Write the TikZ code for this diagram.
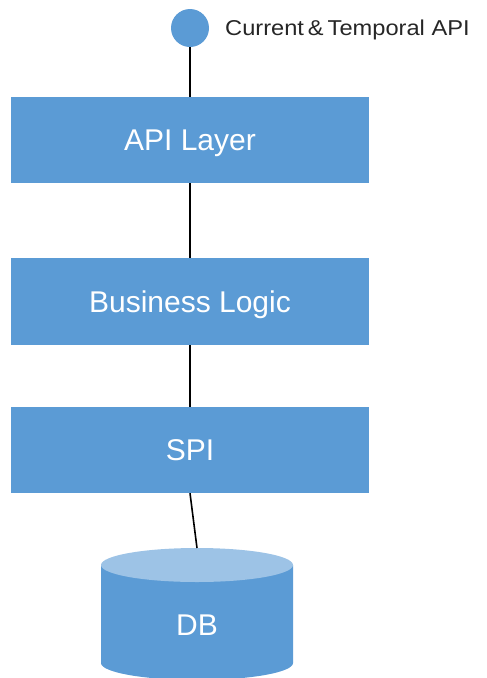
\documentclass[tikz,border=0pt]{standalone}
\usepackage{fontspec}
\setmainfont{Liberation Sans}
\usetikzlibrary{positioning}
\definecolor{layerblue}{HTML}{5B9BD5}
\definecolor{lidblue}{HTML}{9DC3E6}
\tikzset{
  capfont/.style={font=\fontsize{#1pt}{#1pt}\selectfont, text height=0.72*#1pt, text depth=0pt},
  layer/.style={fill=layerblue, text=white, minimum width=358pt,
    minimum height=86pt, inner sep=0pt, capfont=30},
  link/.style={line width=1.6pt}
}

\begin{document}
\begin{tikzpicture}[x=1pt, y=-1pt]
        \useasboundingbox (0,0) rectangle (487,678);

        % 1. The API end point with its label
        \node[circle, fill=layerblue, minimum size=38pt, inner sep=0pt] (api) at (190,28) {};
        \node[anchor=west, inner sep=0pt, text=black!85, capfont=21.5,
              xscale=1.1] (apilabel) at (225,27.5) {Current\,\&\,Temporal API};

        % 2. The three layers
        \node[layer] (apilayer) at (190,140) {API Layer};
        \node[layer, minimum height=87pt] (logic) at (190,301.5) {Business Logic};
        \node[layer] (spi) at (190,450) {SPI};

        % 3. The database cylinder
        \fill[layerblue] (101,565) -- (101,663)
            arc[start angle=180, end angle=0, x radius=96, y radius=17] -- (293,565) -- cycle;
        \fill[lidblue] (197,565) ellipse[x radius=96, y radius=17];
        \coordinate (dbtop) at (197,548);
        \node[text=white, capfont=30, inner sep=0pt] (db) at (197,625) {DB};

        % 4. Connectors
        \draw[link] (api) -- (apilayer);
        \draw[link] (apilayer) -- (logic);
        \draw[link] (logic) -- (spi);
        \draw[link] (spi.south) -- (dbtop);
    \end{tikzpicture}
\end{document}
